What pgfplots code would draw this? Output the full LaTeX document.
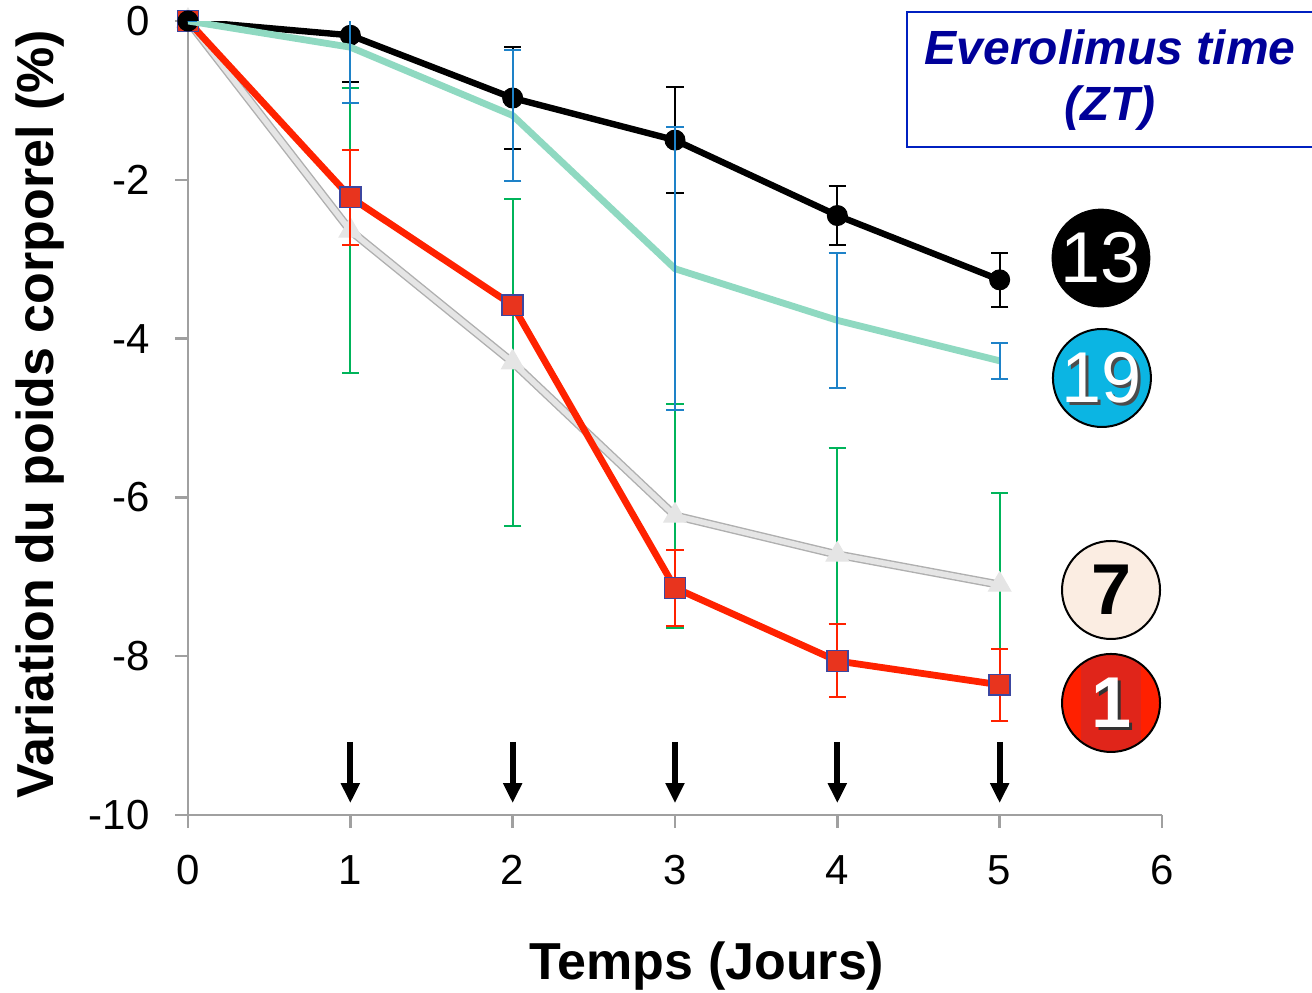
\documentclass[border=0pt]{standalone}
\usepackage{pgfplots}
\usepackage{pgfplotstable}
\pgfplotsset{compat=1.18}
\usepackage{fontspec}
\setmainfont{Liberation Sans}
\usetikzlibrary{arrows.meta}
\definecolor{zteal}{RGB}{143,217,193}
\definecolor{zblue}{RGB}{30,130,200}
\definecolor{zred}{RGB}{255,34,0}
\definecolor{zredmark}{RGB}{232,52,30}
\definecolor{znavy}{RGB}{60,70,160}
\definecolor{zgreen}{RGB}{0,180,90}
\definecolor{zgrey}{RGB}{229,229,229}
\definecolor{zgreyedge}{RGB}{175,175,175}
\definecolor{axisgrey}{RGB}{160,160,160}
\definecolor{boxblue}{RGB}{0,32,192}
\definecolor{textblue}{RGB}{0,0,153}
\definecolor{cyanbadge}{RGB}{11,181,227}
\definecolor{creambadge}{RGB}{251,237,226}
\definecolor{redbadge}{RGB}{255,32,0}
\definecolor{redstripe}{RGB}{224,37,26}

\pgfplotstableread{
x y e
0 0 0
1 -0.18 0.59
2 -0.97 0.64
3 -1.50 0.67
4 -2.45 0.37
5 -3.26 0.34
}\zthirteen
\pgfplotstableread{
x y e
0 0 0
1 -0.33 0.70
2 -1.19 0.82
3 -3.12 1.78
4 -3.77 0.85
5 -4.28 0.23
}\znineteen
\pgfplotstableread{
x y e
0 0 0
1 -2.22 0.60
2 -3.58 0.10
3 -7.14 0.48
4 -8.06 0.46
5 -8.36 0.45
}\zone
\pgfplotstableread{
x y e
0 0 0
1 -2.64 1.79
2 -4.30 2.06
3 -6.23 1.41
4 -6.72 1.34
5 -7.10 1.16
}\zseven

\begin{document}
\begin{tikzpicture}
\path[use as bounding box] (-94pt,-88.5pt) rectangle (562pt,407.5pt);
\begin{axis}[
  at={(0,0)}, anchor=south west,
  scale only axis, width=487pt, height=397pt,
  xmin=0, xmax=6, ymin=-10, ymax=0,
  axis x line=bottom, axis y line=left,
  axis line style={axisgrey, line width=1.2pt, -},
  xtick={0,1,2,3,4,5,6}, ytick={-10,-8,-6,-4,-2,0},
  tick style={axisgrey, line width=1.2pt},
  tick align=outside, major tick length=6.5pt,
  tick label style={font=\fontsize{21}{25}\selectfont, /pgf/number format/assume math mode=true},
  xticklabel style={inner sep=0pt, yshift=-13.5pt},
  yticklabel style={inner sep=0pt, xshift=-12.5pt},
  xlabel={Temps (Jours)},
  ylabel={Variation du poids corporel (\%)},
  label style={font=\fontsize{26}{30}\selectfont\bfseries},
  xlabel style={at={(axis description cs:0.533,-0.19)}, anchor=center},
  ylabel style={at={(axis description cs:-0.152,0.505)}, anchor=center},
  clip mode=individual,
]
% ZT7 (grey) outline then fill
\addplot[zgreyedge, line width=4.2pt, no markers] table[x=x,y=y] {\zseven};
\addplot[zgrey, line width=2.8pt, mark=triangle*, mark size=6.5pt,
  mark options={fill=zgrey, draw=zgrey, line width=0.5pt},
  error bars/.cd, y dir=both, y explicit,
  error bar style={zgreen, line width=1pt},
  error mark options={zgreen, line width=1pt, mark size=4.3pt, rotate=90}]
  table[x=x,y=y,y error=e] {\zseven};
% ZT1 (red)
\addplot[zred, line width=3.4pt, mark=square*, mark size=5.2pt,
  mark options={fill=zredmark, draw=znavy, line width=0.8pt},
  error bars/.cd, y dir=both, y explicit,
  error bar style={zred, line width=1pt},
  error mark options={zred, line width=1pt, mark size=4.3pt, rotate=90}]
  table[x=x,y=y,y error=e] {\zone};
% ZT13 (black)
\addplot[black, line width=3.2pt, mark=*, mark size=5pt,
  mark options={fill=black, draw=black, line width=0.5pt},
  error bars/.cd, y dir=both, y explicit,
  error bar style={black, line width=1pt},
  error mark options={black, line width=1pt, mark size=4.3pt, rotate=90}]
  table[x=x,y=y,y error=e] {\zthirteen};
% ZT19 (teal)
\addplot[zteal, line width=3.4pt, no markers,
  error bars/.cd, y dir=both, y explicit,
  error bar style={zblue, line width=1pt},
  error mark options={zblue, line width=1pt, mark size=4.3pt, rotate=90}]
  table[x=x,y=y,y error=e] {\znineteen};
% injection arrows
\addplot[black, line width=3pt, -{Triangle[width=9pt,length=10pt]}, quiver={u=0,v=-0.77}, no markers]
  coordinates {(1,-9.08) (2,-9.08) (3,-9.08) (4,-9.08) (5,-9.08)};

% legend box
\draw[boxblue, line width=1pt] (axis cs:4.429,0.113) rectangle (axis cs:6.97,-1.587);
\node[text=textblue, font=\fontsize{24}{28}\selectfont\bfseries\itshape, align=center]
  at (axis cs:5.68,-0.74) {Everolimus time\\(ZT)};

% badges
\draw[black, fill=black] (axis cs:5.624,-2.985) circle[radius=24.5pt];
\node[text=white, font=\fontsize{36}{40}\selectfont] at (axis cs:5.624,-2.985) {13};
\draw[black, line width=1pt, fill=cyanbadge] (axis cs:5.63,-4.496) circle[radius=24.5pt];
\node[text=black!70, font=\fontsize{36}{40}\selectfont] at (axis cs:5.63,-4.496) [xshift=1.5pt, yshift=-1.5pt] {19};
\node[text=white, font=\fontsize{36}{40}\selectfont] at (axis cs:5.63,-4.496) {19};
\draw[black, line width=1pt, fill=creambadge] (axis cs:5.686,-7.166) circle[radius=24.5pt];
\node[text=black, font=\fontsize{36}{40}\selectfont\bfseries] at (axis cs:5.686,-7.166) {7};
\begin{scope}
\clip (axis cs:5.686,-8.589) circle[radius=24.5pt];
\fill[redbadge] (axis cs:5.686,-8.589) circle[radius=24.5pt];
\fill[redstripe] ([xshift=-15pt]axis cs:5.686,-7.8) rectangle ([xshift=15pt]axis cs:5.686,-9.4);
\end{scope}
\draw[black, line width=1pt] (axis cs:5.686,-8.589) circle[radius=24.5pt];
\node[text=black!80, font=\fontsize{36}{40}\selectfont\bfseries] at (axis cs:5.686,-8.589) [xshift=1.5pt, yshift=-1.5pt] {1};
\node[text=white, font=\fontsize{36}{40}\selectfont\bfseries] at (axis cs:5.686,-8.589) {1};
\end{axis}
\end{tikzpicture}
\end{document}
